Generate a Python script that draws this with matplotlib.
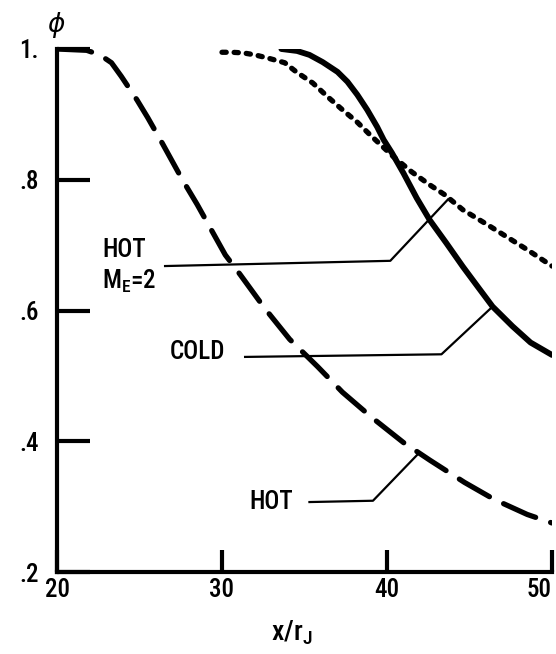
import matplotlib
matplotlib.use("Agg")
import matplotlib.pyplot as plt

# Narrow lettering like the original drawing; falls back to DejaVu Sans
plt.rcParams['font.family'] = ['Roboto Condensed', 'IBM Plex Sans Condensed', 'DejaVu Sans']
plt.rcParams['font.weight'] = 500
plt.rcParams['mathtext.fontset'] = 'dejavusans'

# ====
# DATA
# ====

# HOT (long dashes)
hot_x = [20, 21.8, 22.6, 23.3, 23.9, 24.85, 25.5, 26.4, 27.6, 28.5, 30.2, 31.1, 32.6, 34.1, 35.8, 37.3, 39.1,
         41.0, 42.6, 44.7, 46.5, 48.5, 50]
hot_y = [1.0, 0.998, 0.991, 0.979, 0.958, 0.922, 0.895, 0.855, 0.80, 0.762, 0.685, 0.655, 0.603, 0.556, 0.514,
         0.475, 0.436, 0.398, 0.371, 0.337, 0.311, 0.288, 0.275]

# HOT, M_E=2 (short dashes)
hot2_x = [30, 30.6, 31.3, 32.0, 32.8, 33.8, 34.5, 35.5, 36.4, 37.3, 38.2, 39.0, 40.4, 41.5, 42.6, 43.5,
          44.6, 46.1, 47.3, 48.5, 50]
hot2_y = [0.995, 0.995, 0.994, 0.991, 0.986, 0.979, 0.965, 0.948, 0.927, 0.907, 0.888, 0.868, 0.835, 0.812,
          0.792, 0.777, 0.754, 0.731, 0.712, 0.693, 0.668]

# COLD (solid)
cold_x = [33.6, 34.55, 35.3, 36.1, 37.0, 37.6, 38.2, 38.8, 39.4, 39.8, 40.3, 41.0, 41.8, 42.6, 43.6, 44.6,
          45.6, 46.4, 47.6, 48.7, 50]
cold_y = [1.0, 0.997, 0.991, 0.980, 0.965, 0.950, 0.930, 0.907, 0.881, 0.861, 0.841, 0.810, 0.772, 0.738,
          0.703, 0.667, 0.633, 0.606, 0.576, 0.551, 0.532]

# Leader lines from labels to curves
lead_hot2_x = [26.55, 40.2, 43.7]
lead_hot2_y = [0.668, 0.676, 0.770]
lead_cold_x = [31.4, 43.3, 46.4]
lead_cold_y = [0.529, 0.533, 0.606]
lead_hot_x = [35.3, 39.15, 41.9]
lead_hot_y = [0.307, 0.309, 0.381]

x_ticks = [20, 30, 40, 50]
x_tick_labels = ['20', '30', '40', '50']
y_ticks = [0.2, 0.4, 0.6, 0.8, 1.0]
y_tick_labels = ['.2', '.4', '.6', '.8', '1.']

# ====
# PLOT
# ====

fig = plt.figure(figsize=(5.56, 6.54), dpi=100)
ax = fig.add_axes([57 / 556, 1 - 572 / 654, 495 / 556, 523 / 654])

ax.plot(hot_x, hot_y, 'k', lw=3.8, linestyle=(0, (6.6, 3.0)), dash_capstyle='round')
ax.plot(hot2_x, hot2_y, 'k', lw=3.8, linestyle=(0, (0.8, 1.5)), dash_capstyle='round')
ax.plot(cold_x, cold_y, 'k', lw=4.2, solid_capstyle='round', solid_joinstyle='round')

for lx, ly in [(lead_hot2_x, lead_hot2_y), (lead_cold_x, lead_cold_y), (lead_hot_x, lead_hot_y)]:
    ax.plot(lx, ly, 'k', lw=1.6)

# Curve labels
ax.text(24.06, 0.6925, 'HOT', fontsize=18, ha='center', va='center')
ax.text(22.75, 0.645, r'M$_\mathregular{E}$=2', fontsize=18, ha='left', va='center')
ax.text(28.5, 0.5365, 'COLD', fontsize=18, ha='center', va='center')
ax.text(33.0, 0.307, 'HOT', fontsize=18, ha='center', va='center')

# Axes configuration
ax.set_xlim(20, 50)
ax.set_ylim(0.2, 1.0)
ax.spines['top'].set_visible(False)
ax.spines['right'].set_visible(False)
ax.spines['left'].set_linewidth(3)
ax.spines['bottom'].set_linewidth(3)
ax.spines['left'].set_capstyle('projecting')
ax.spines['bottom'].set_capstyle('projecting')

ax.set_xticks(x_ticks)
ax.set_xticklabels(x_tick_labels, fontsize=18)
ax.set_yticks(y_ticks)
ax.set_yticklabels(y_tick_labels, fontsize=18)
ax.tick_params(axis='x', direction='in', length=16, width=3, pad=4)
ax.tick_params(axis='y', direction='in', length=24, width=3, pad=13)
ax.get_xticklabels()[-1].set_horizontalalignment('right')

fig.text(56 / 556, 1 - 25 / 654, r'$\phi$', fontsize=19, ha='center', va='center')
fig.text(292 / 556, 1 - 633 / 654, r'x/r$_\mathregular{J}$', fontsize=20, ha='center', va='center')

fig.savefig('out.png', dpi=100, facecolor='white')
